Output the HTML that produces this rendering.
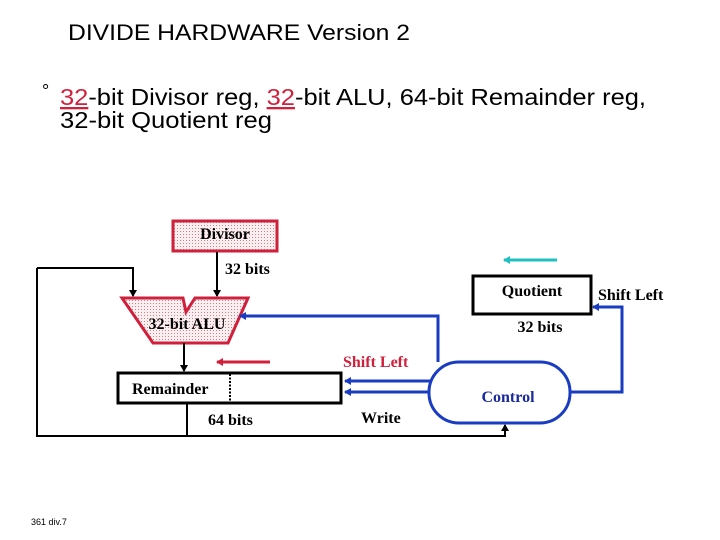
<!DOCTYPE html>
<html><head><meta charset="utf-8"><style>
html,body{margin:0;padding:0;background:#fff;}
svg{display:block;}
</style></head><body>
<svg width="720" height="540" viewBox="0 0 720 540" xmlns="http://www.w3.org/2000/svg">
<defs>
<pattern id="dots" width="3" height="3" patternUnits="userSpaceOnUse">
<rect width="3" height="3" fill="#fbeef0"/><rect width="1" height="1" fill="#b88"/>
</pattern>
<marker id="ak" markerWidth="8" markerHeight="8" refX="6" refY="4" orient="auto" markerUnits="userSpaceOnUse"><path d="M0,0 L7,4 L0,8 z" fill="#000"/></marker>
<marker id="ab" markerWidth="8" markerHeight="8" refX="6" refY="4" orient="auto" markerUnits="userSpaceOnUse"><path d="M0,0 L7,4 L0,8 z" fill="#1a3cc0"/></marker>
<marker id="ar" markerWidth="8" markerHeight="8" refX="6" refY="4" orient="auto" markerUnits="userSpaceOnUse"><path d="M0,0 L7,4 L0,8 z" fill="#d0203c"/></marker>
<marker id="ac" markerWidth="8" markerHeight="8" refX="6" refY="4" orient="auto" markerUnits="userSpaceOnUse"><path d="M0,0 L7,4 L0,8 z" fill="#20c0c0"/></marker>
</defs>
<g font-family="Liberation Sans, Arial, sans-serif">
<text x="68" y="40" font-size="22" fill="#000" textLength="342" lengthAdjust="spacingAndGlyphs">DIVIDE HARDWARE Version 2</text>
<text x="42" y="97" font-size="18" fill="#000">°</text>
<text x="60" y="105" font-size="23" fill="#000" textLength="586" lengthAdjust="spacingAndGlyphs"><tspan fill="#d0203c" text-decoration="underline">32</tspan>-bit Divisor reg, <tspan fill="#d0203c" text-decoration="underline">32</tspan>-bit ALU, 64-bit Remainder reg,</text>
<text x="60" y="128" font-size="23" fill="#000" textLength="212" lengthAdjust="spacingAndGlyphs">32-bit Quotient reg</text>
<text x="31" y="525" font-size="9" fill="#000">361 div.7</text>
</g>
<g font-family="Liberation Serif, Times New Roman, serif" font-weight="bold" font-size="16">
<rect x="173" y="221" width="104" height="30" fill="url(#dots)" stroke="#d0203c" stroke-width="3"/>
<text x="225" y="239" text-anchor="middle">Divisor</text>
<line x1="217" y1="252" x2="217" y2="296" stroke="#000" stroke-width="2" marker-end="url(#ak)"/>
<text x="225" y="274">32 bits</text>
<polygon points="122,298 183,298 186,312 195,298 248,298 228,343 153,343" fill="url(#dots)" stroke="#d0203c" stroke-width="3"/>
<text x="187" y="329" text-anchor="middle">32-bit ALU</text>
<polyline points="37,268 133,268 133,296" fill="none" stroke="#000" stroke-width="2" marker-end="url(#ak)"/>
<polyline points="37,268 37,436 505,436 505,425" fill="none" stroke="#000" stroke-width="2" marker-end="url(#ak)"/>
<line x1="187" y1="404" x2="187" y2="436" stroke="#000" stroke-width="2"/>
<line x1="184" y1="343" x2="184" y2="371" stroke="#000" stroke-width="2" marker-end="url(#ak)"/>
<rect x="118" y="373" width="223" height="30" fill="#fff" stroke="#000" stroke-width="3"/>
<line x1="230" y1="374" x2="230" y2="401" stroke="#000" stroke-width="2" stroke-dasharray="2,1.5"/>
<text x="132" y="394">Remainder</text>
<text x="208" y="425">64 bits</text>
<line x1="270" y1="362" x2="217" y2="362" stroke="#d0203c" stroke-width="3" marker-end="url(#ar)"/>
<text x="343" y="367" fill="#d0203c">Shift Left</text>
<polyline points="438,362 438,316 240,316" fill="none" stroke="#1a3cc0" stroke-width="3" marker-end="url(#ab)"/>
<line x1="430" y1="381" x2="345" y2="381" stroke="#1a3cc0" stroke-width="3" marker-end="url(#ab)"/>
<line x1="430" y1="392" x2="345" y2="392" stroke="#1a3cc0" stroke-width="3" marker-end="url(#ab)"/>
<polyline points="570,392 622,392 622,307 593,307" fill="none" stroke="#1a3cc0" stroke-width="3" marker-end="url(#ab)"/>
<rect x="429" y="362" width="141" height="61" rx="30" ry="30" fill="#fff" stroke="#1a3cc0" stroke-width="3"/>
<text x="508" y="402" text-anchor="middle" fill="#1a2a9c">Control</text>
<text x="361" y="423">Write</text>
<line x1="557" y1="260" x2="504" y2="260" stroke="#20c0c0" stroke-width="3" marker-end="url(#ac)"/>
<rect x="473" y="276" width="118" height="38" fill="#fff" stroke="#000" stroke-width="3"/>
<text x="532" y="296" text-anchor="middle">Quotient</text>
<text x="540" y="332" text-anchor="middle">32 bits</text>
<text x="598" y="300">Shift Left</text>
</g>
</svg>
</body></html>
